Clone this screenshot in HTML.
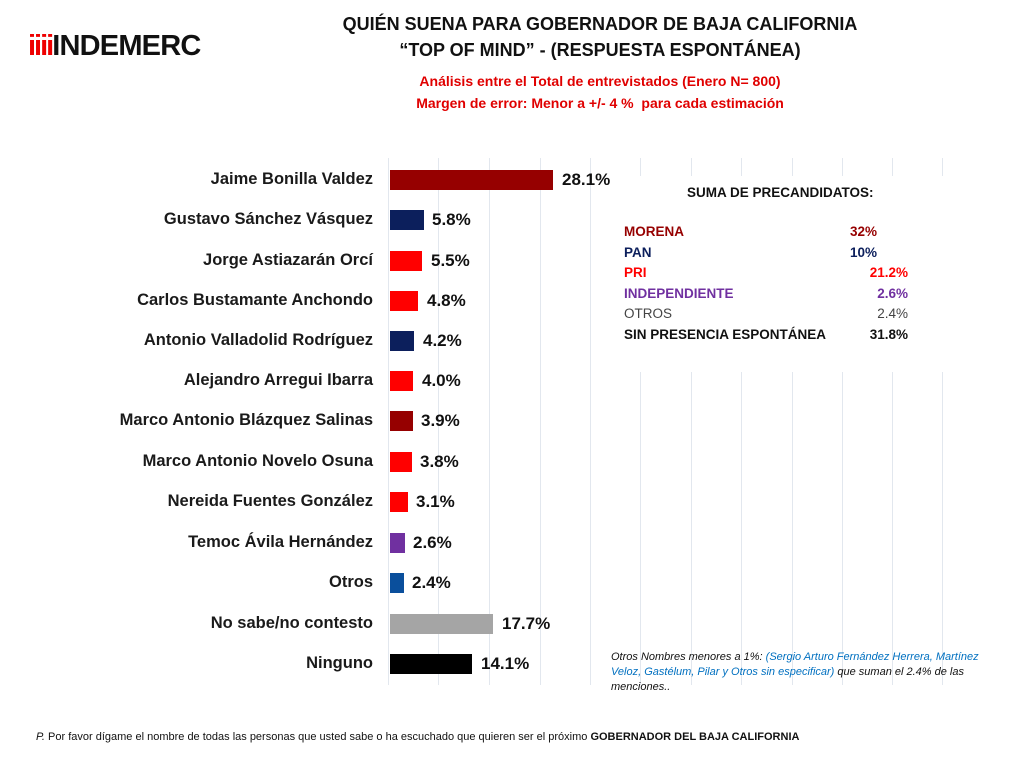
<!DOCTYPE html>
<html><head><meta charset="utf-8"><style>
body{margin:0;width:1024px;height:768px;background:#fff;font-family:"Liberation Sans",sans-serif;position:relative;overflow:hidden}
.a{position:absolute;white-space:nowrap}
.t{font-weight:bold;font-size:18px;color:#111;text-align:center;left:200px;width:800px}
.r{font-weight:bold;font-size:14px;color:#e00000;text-align:center;left:200px;width:800px}
.lab{right:651px;font-size:16.5px;font-weight:bold;color:#1a1a1a;text-align:right}
.val{font-size:17px;font-weight:bold;color:#111}
.g{position:absolute;width:1px;background:#e2e7ee;top:158px;height:527px}
.bar{position:absolute;left:390px;height:20px}
.lg{font-size:13.5px;font-weight:bold}
.rv{right:116px;text-align:right}
</style></head><body>
<div class="a" style="left:28px;top:30px;font-size:29px;font-weight:bold;color:#111;letter-spacing:-0.8px"><span style="color:#e00;letter-spacing:-2px">iiii</span>INDEMERC</div>
<div class="a t" style="top:14px">QUIÉN SUENA PARA GOBERNADOR DE BAJA CALIFORNIA</div>
<div class="a t" style="top:40px">“TOP OF MIND” - (RESPUESTA ESPONTÁNEA)</div>
<div class="a r" style="top:73px">Análisis entre el Total de entrevistados (Enero N= 800)</div>
<div class="a r" style="top:95px">Margen de error: Menor a +/- 4 %&nbsp; para cada estimación</div>

<div class="g" style="left:388px"></div><div class="g" style="left:438px"></div><div class="g" style="left:489px"></div><div class="g" style="left:540px"></div><div class="g" style="left:590px"></div><div class="g" style="left:640px"></div><div class="g" style="left:691px"></div><div class="g" style="left:741px"></div><div class="g" style="left:792px"></div><div class="g" style="left:842px"></div><div class="g" style="left:892px"></div><div class="g" style="left:942px"></div>
<div class="a" style="left:612px;top:176px;width:350px;height:196px;background:#fff"></div>

<div class="a lab" style="top:170px">Jaime Bonilla Valdez</div><div class="bar" style="top:170px;width:163px;background:#960000"></div><div class="a val" style="left:562px;top:170px">28.1%</div>
<div class="a lab" style="top:210px">Gustavo Sánchez Vásquez</div><div class="bar" style="top:210px;width:34px;background:#0c1f5c"></div><div class="a val" style="left:432px;top:210px">5.8%</div>
<div class="a lab" style="top:251px">Jorge Astiazarán Orcí</div><div class="bar" style="top:251px;width:32px;background:#ff0000"></div><div class="a val" style="left:431px;top:251px">5.5%</div>
<div class="a lab" style="top:291px">Carlos Bustamante Anchondo</div><div class="bar" style="top:291px;width:28px;background:#ff0000"></div><div class="a val" style="left:427px;top:291px">4.8%</div>
<div class="a lab" style="top:331px">Antonio Valladolid Rodríguez</div><div class="bar" style="top:331px;width:24px;background:#0c1f5c"></div><div class="a val" style="left:423px;top:331px">4.2%</div>
<div class="a lab" style="top:371px">Alejandro Arregui Ibarra</div><div class="bar" style="top:371px;width:23px;background:#ff0000"></div><div class="a val" style="left:422px;top:371px">4.0%</div>
<div class="a lab" style="top:411px">Marco Antonio Blázquez Salinas</div><div class="bar" style="top:411px;width:23px;background:#960000"></div><div class="a val" style="left:421px;top:411px">3.9%</div>
<div class="a lab" style="top:452px">Marco Antonio Novelo Osuna</div><div class="bar" style="top:452px;width:22px;background:#ff0000"></div><div class="a val" style="left:420px;top:452px">3.8%</div>
<div class="a lab" style="top:492px">Nereida Fuentes González</div><div class="bar" style="top:492px;width:18px;background:#ff0000"></div><div class="a val" style="left:416px;top:492px">3.1%</div>
<div class="a lab" style="top:533px">Temoc Ávila Hernández</div><div class="bar" style="top:533px;width:15px;background:#7030a0"></div><div class="a val" style="left:413px;top:533px">2.6%</div>
<div class="a lab" style="top:573px">Otros</div><div class="bar" style="top:573px;width:14px;background:#0a4f9c"></div><div class="a val" style="left:412px;top:573px">2.4%</div>
<div class="a lab" style="top:614px">No sabe/no contesto</div><div class="bar" style="top:614px;width:103px;background:#a5a5a5"></div><div class="a val" style="left:502px;top:614px">17.7%</div>
<div class="a lab" style="top:654px">Ninguno</div><div class="bar" style="top:654px;width:82px;background:#000"></div><div class="a val" style="left:481px;top:654px">14.1%</div>

<div class="a lg" style="left:687px;top:185px;color:#111">SUMA DE PRECANDIDATOS:</div>
<div class="a lg" style="left:624px;top:224px;color:#960000">MORENA</div><div class="a lg" style="left:850px;top:224px;color:#960000">32%</div>
<div class="a lg" style="left:624px;top:245px;color:#0c1f5c">PAN</div><div class="a lg" style="left:850px;top:245px;color:#0c1f5c">10%</div>
<div class="a lg" style="left:624px;top:265px;color:#ff0000">PRI</div><div class="a lg rv" style="top:265px;color:#ff0000">21.2%</div>
<div class="a lg" style="left:624px;top:286px;color:#7030a0">INDEPENDIENTE</div><div class="a lg rv" style="top:286px;color:#7030a0">2.6%</div>
<div class="a lg" style="left:624px;top:306px;color:#444;font-weight:normal">OTROS</div><div class="a lg rv" style="top:306px;color:#444;font-weight:normal">2.4%</div>
<div class="a lg" style="left:624px;top:327px;color:#111">SIN PRESENCIA ESPONTÁNEA</div><div class="a lg rv" style="top:327px;color:#111">31.8%</div>

<div class="a" style="left:611px;top:650px;width:395px;white-space:normal;font-size:11px;font-style:italic;line-height:15px;color:#111">Otros Nombres menores a 1%: <span style="color:#0070c0">(Sergio Arturo Fernández Herrera, Martínez Veloz, Gastélum, Pilar y Otros sin especificar)</span> que suman el 2.4% de las menciones..</div>
<div class="a" style="left:36px;top:731px;font-size:11px;color:#111"><i>P.</i> Por favor dígame el nombre de todas las personas que usted sabe o ha escuchado que quieren ser el próximo <b>GOBERNADOR DEL BAJA CALIFORNIA</b></div>
</body></html>
